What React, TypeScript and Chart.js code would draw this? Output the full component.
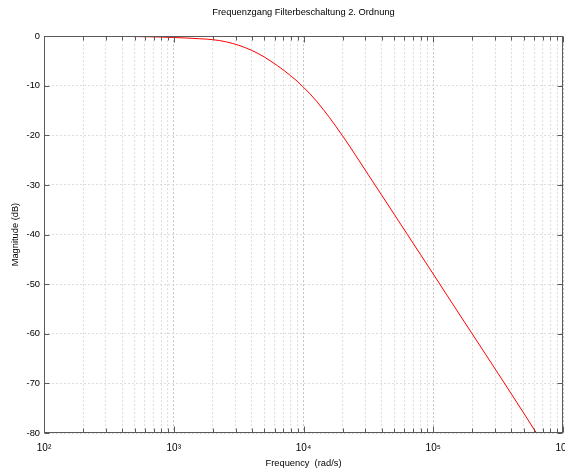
import React, { useEffect, useRef } from 'react';
import { Chart, registerables } from 'chart.js';

Chart.register(...registerables);

// ---- data ----
const FREQUENCIES_RAD_S = [
  360, 500, 631, 794, 1000, 1259, 1585, 2000, 2240, 2510, 2820, 3160, 3550, 3980,
  4470, 5010, 5620, 6310, 7080, 7940, 8910, 10000, 11220, 12590, 14130, 15850,
  17780, 19950, 25120, 31620, 39810, 50120, 63100, 79430, 100000, 125900, 158500,
  199500, 251200, 316200, 398100, 501200, 631000, 794300,
];
const MAGNITUDES_DB = [
  -0.05, -0.08, -0.12, -0.18, -0.27, -0.38, -0.52, -0.7, -0.88, -1.12, -1.44, -1.83, -2.3, -2.86,
  -3.5, -4.24, -5.07, -5.97, -6.93, -7.95, -9.05, -10.3, -11.63, -13.1, -14.7, -16.4,
  -18.2, -20.05, -23.95, -27.95, -31.95, -35.95, -39.95, -43.95, -47.95, -52.0, -56.0,
  -60.0, -64.0, -68.0, -72.05, -76.1, -80.2, -84.3,
];
const X_TICKS = [
  100, 200, 300, 400, 500, 600, 700, 800, 900,
  1000, 2000, 3000, 4000, 5000, 6000, 7000, 8000, 9000,
  10000, 20000, 30000, 40000, 50000, 60000, 70000, 80000, 90000,
  100000, 200000, 300000, 400000, 500000, 600000, 700000, 800000, 900000,
  1000000,
];
const X_DECADE_LABELS: Record<number, string> = {
  100: '10\u00B2',
  1000: '10\u00B3',
  10000: '10\u2074',
  100000: '10\u2075',
  1000000: '10\u2076',
};
const X_MIN = 100;
const X_MAX = 1000000;
const Y_MIN = -80;
const Y_MAX = 0;
const Y_STEP = 10;

const TITLE = 'Frequenzgang Filterbeschaltung 2. Ordnung';
const X_LABEL = 'Frequency  (rad/s)';
const Y_LABEL = 'Magnitude (dB)';

const FONT = '"Liberation Sans", Arial, Helvetica, sans-serif';
const FS = 9.3;

const isDecade = (v: number) => Math.abs(Math.log10(v) - Math.round(Math.log10(v))) < 1e-9;

const framePlugin = {
  id: 'frameTicks',
  afterDatasetsDraw(chart: any) {
    const { ctx, chartArea: a, scales } = chart;
    const xs = scales.x;
    const ys = scales.y;
    const L = Math.round(a.left) + 0.5;
    const R = Math.round(a.right) - 0.5;
    const T = Math.round(a.top) + 0.5;
    const B = Math.round(a.bottom) - 0.5;
    ctx.save();
    ctx.strokeStyle = '#5a5a5a';
    ctx.lineWidth = 1;
    ctx.beginPath();
    for (const v of X_TICKS) {
      const px = Math.round(xs.getPixelForValue(v)) + 0.5;
      const len = isDecade(v) ? 6 : 4;
      ctx.moveTo(px, B);
      ctx.lineTo(px, B - len);
      ctx.moveTo(px, T);
      ctx.lineTo(px, T + len);
    }
    for (let v = Y_MIN; v <= Y_MAX; v += Y_STEP) {
      const py = Math.round(ys.getPixelForValue(v)) + 0.5;
      ctx.moveTo(L, py);
      ctx.lineTo(L + 5, py);
      ctx.moveTo(R, py);
      ctx.lineTo(R - 5, py);
    }
    ctx.stroke();
    ctx.strokeRect(L, T, R - L, B - T);
    ctx.restore();
  },
};

export default function App() {
  const canvasRef = useRef<HTMLCanvasElement>(null);

  useEffect(() => {
    const canvas = canvasRef.current;
    if (!canvas) return;
    const points = FREQUENCIES_RAD_S.map((f, i) => ({ x: f, y: MAGNITUDES_DB[i] }));
    const chart = new Chart(canvas, {
      type: 'line',
      data: {
        datasets: [
          {
            data: points,
            borderColor: '#ff0000',
            borderWidth: 1,
            pointRadius: 0,
            fill: false,
            cubicInterpolationMode: 'monotone',
          } as any,
        ],
      },
      options: {
        responsive: false,
        animation: false,
        devicePixelRatio: 1,
        layout: { padding: { left: 0, right: 2, top: 0, bottom: 0 } },
        plugins: {
          legend: { display: false },
          tooltip: { enabled: false },
          title: {
            display: true,
            text: TITLE,
            fullSize: false,
            color: '#000',
            font: { family: FONT, size: FS, weight: 'normal' },
            padding: { top: 7, bottom: 18 },
          },
        },
        scales: {
          x: {
            type: 'logarithmic',
            min: X_MIN,
            max: X_MAX,
            afterBuildTicks: (s: any) => {
              s.ticks = X_TICKS.map((v) => ({ value: v }));
            },
            afterFit: (s: any) => {
              s.height = 41;
              s.paddingLeft = 0;
              s.paddingRight = 0;
            },
            ticks: {
              autoSkip: false,
              maxRotation: 0,
              minRotation: 0,
              padding: 9,
              color: '#000',
              font: { family: FONT, size: FS + 0.7 },
              callback: (v: any) => X_DECADE_LABELS[Number(v)] ?? '',
            },
            grid: {
              drawTicks: false,
              lineWidth: 1,
              color: (c: any) => (c.tick && isDecade(c.tick.value) ? '#c4c4c4' : '#dcdcdc'),
            },
            border: { display: false, dash: [2, 2] },
            title: {
              display: true,
              text: X_LABEL,
              color: '#000',
              font: { family: FONT, size: FS },
              padding: { top: 0, bottom: 5 },
            },
          },
          y: {
            type: 'linear',
            min: Y_MIN,
            max: Y_MAX,
            afterFit: (s: any) => {
              s.width = 44;
              s.paddingTop = 0;
              s.paddingBottom = 0;
            },
            ticks: {
              stepSize: Y_STEP,
              padding: 4,
              color: '#000',
              font: { family: FONT, size: FS },
              callback: (v: any) => String(v),
            },
            grid: { drawTicks: false, lineWidth: 1, color: '#dcdcdc' },
            border: { display: false, dash: [2, 2] },
            title: {
              display: true,
              text: Y_LABEL,
              color: '#000',
              font: { family: FONT, size: FS },
              padding: { top: 10, bottom: 0 },
            },
          },
        },
      } as any,
      plugins: [framePlugin],
    });
    return () => chart.destroy();
  }, []);

  return (
    <div style={{ position: 'absolute', left: 0, top: 0, width: 565, height: 474, background: '#fff' }}>
      <canvas ref={canvasRef} width={565} height={474} style={{ display: 'block' }} />
    </div>
  );
}
